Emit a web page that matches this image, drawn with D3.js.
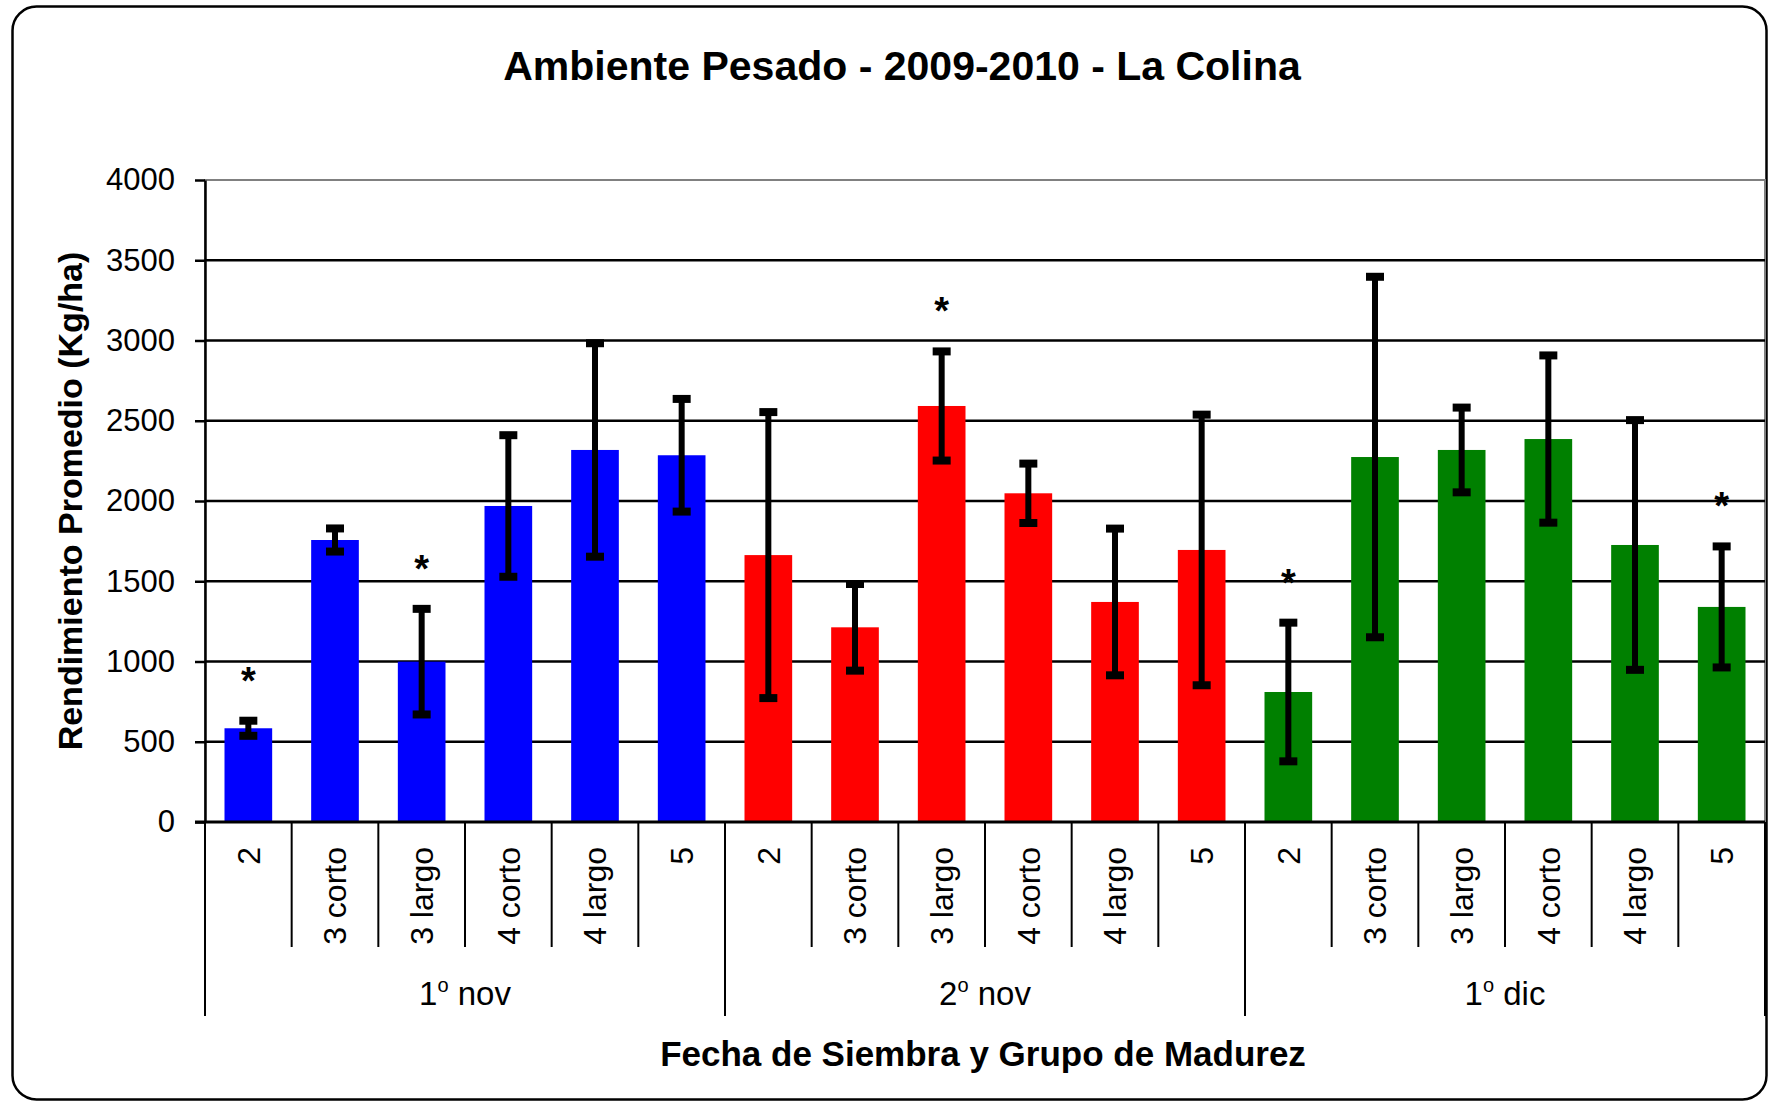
<!DOCTYPE html>
<html>
<head>
<meta charset="utf-8">
<script src="https://cdn.jsdelivr.net/npm/d3@7"></script>
<style>
  html, body { margin: 0; padding: 0; background: #fff; }
  svg { display: block; font-family: "Liberation Sans", Arial, sans-serif; }
</style>
</head>
<body>
<main></main>
<script>
// rendimiento promedio (kg/ha) y desvío, por fecha de siembra
const maturityGroups = ["2", "3 corto", "3 largo", "4 corto", "4 largo", "5"];
const sowingDates = ["1º nov", "2º nov", "1º dic"];
const nov1Mean = [584, 1757, 999, 1969, 2318, 2285];
const nov1Err = [47, 72, 329, 441, 665, 351];
const nov2Mean = [1663, 1213, 2592, 2048, 1371, 1695];
const nov2Err = [891, 270, 340, 185, 457, 843];
const dic1Mean = [810, 2274, 2318, 2386, 1726, 1340];
const dic1Err = [432, 1123, 264, 521, 778, 377];
// bars marked with "*"
const nov1Star = [true, false, true, false, false, false];
const nov2Star = [false, false, true, false, false, false];
const dic1Star = [true, false, false, false, false, true];
const yTicks = [0, 500, 1000, 1500, 2000, 2500, 3000, 3500, 4000];

const colors = ["#0000ff", "#ff0000", "#008000"];
const means = [nov1Mean, nov2Mean, dic1Mean];
const errs = [nov1Err, nov2Err, dic1Err];
const stars = [nov1Star, nov2Star, dic1Star];

const rows = [];
sowingDates.forEach((g, gi) => {
  maturityGroups.forEach((m, mi) => {
    rows.push({ key: gi + "-" + mi, group: g, gi, label: m, v: means[gi][mi], e: errs[gi][mi], star: stars[gi][mi] });
  });
});

const W = 1770, H = 1104;
const plotL = 205, plotR = 1765, plotT = 180, plotB = 822;

const svg = d3.select("main").append("svg")
  .attr("width", W).attr("height", H).attr("viewBox", `0 0 ${W} ${H}`);

// outer frame
svg.append("rect")
  .attr("x", 12.5).attr("y", 6.5).attr("width", 1754).attr("height", 1093)
  .attr("rx", 24).attr("fill", "#fff").attr("stroke", "#000").attr("stroke-width", 2.5);

const x = d3.scaleBand().domain(rows.map(d => d.key)).range([plotL, plotR])
  .paddingInner(0.45).paddingOuter(0.225);
const y = d3.scaleLinear().domain([0, 4000]).range([plotB, plotT]);
const step = x.step();
const slotLeft = k => x(k) - x.paddingInner() * step / 2;

// plot area frame + grid
svg.append("rect")
  .attr("x", plotL).attr("y", plotT).attr("width", plotR - plotL).attr("height", plotB - plotT)
  .attr("fill", "none").attr("stroke", "#808080").attr("stroke-width", 2);

svg.append("g")
  .selectAll("line")
  .data(yTicks.filter(t => t > 0 && t < 4000))
  .join("line")
  .attr("x1", plotL).attr("x2", plotR)
  .attr("y1", d => y(d)).attr("y2", d => y(d))
  .attr("stroke", "#000").attr("stroke-width", 2.5);

// bars
svg.append("g")
  .selectAll("rect")
  .data(rows)
  .join("rect")
  .attr("x", d => x(d.key))
  .attr("width", x.bandwidth())
  .attr("y", d => y(d.v))
  .attr("height", d => y(0) - y(d.v))
  .attr("fill", d => colors[d.gi]);

// error bars
const eb = svg.append("g").attr("stroke", "#000");
const cx = d => x(d.key) + x.bandwidth() / 2;
eb.selectAll("line.stem")
  .data(rows)
  .join("line")
  .attr("class", "stem")
  .attr("x1", cx).attr("x2", cx)
  .attr("y1", d => y(d.v + d.e)).attr("y2", d => y(d.v - d.e))
  .attr("stroke-width", 6);
eb.selectAll("line.cap")
  .data(rows.flatMap(d => [{ d, v: d.v + d.e }, { d, v: d.v - d.e }]))
  .join("line")
  .attr("class", "cap")
  .attr("x1", c => cx(c.d) - 9).attr("x2", c => cx(c.d) + 9)
  .attr("y1", c => y(c.v)).attr("y2", c => y(c.v))
  .attr("stroke-width", 8);

// significance marks
svg.append("g")
  .selectAll("text")
  .data(rows.filter(d => d.star))
  .join("text")
  .attr("x", cx)
  .attr("y", d => y(d.v + d.e) - 27)
  .attr("text-anchor", "middle")
  .style("font-size", "38px")
  .style("font-weight", "bold")
  .text("*");

// y axis
const yAxis = svg.append("g")
  .attr("transform", `translate(${plotL},0)`)
  .call(d3.axisLeft(y).tickValues(yTicks).tickFormat(d3.format("d")).tickSize(10).tickPadding(20).tickSizeOuter(0));
yAxis.select(".domain").attr("stroke", "#000").attr("stroke-width", 2.5);
yAxis.selectAll(".tick line").attr("stroke", "#000").attr("stroke-width", 2.5);
yAxis.selectAll(".tick text").style("font-size", "31px").attr("fill", "#000");
yAxis.attr("font-family", null).attr("font-size", null);

// x axis line
svg.append("line")
  .attr("x1", plotL - 10).attr("x2", plotR)
  .attr("y1", plotB).attr("y2", plotB)
  .attr("stroke", "#000").attr("stroke-width", 3);

// category separators
const seps = rows.map((d, i) => ({ xPos: slotLeft(d.key), major: i % maturityGroups.length === 0 }));
seps.push({ xPos: plotR, major: true });
svg.append("g")
  .selectAll("line")
  .data(seps)
  .join("line")
  .attr("x1", d => d.xPos).attr("x2", d => d.xPos)
  .attr("y1", plotB).attr("y2", d => d.major ? 1016 : 947)
  .attr("stroke", "#000").attr("stroke-width", 2);

// category labels
svg.append("g")
  .selectAll("text")
  .data(rows)
  .join("text")
  .attr("transform", d => `translate(${cx(d)},847) rotate(-90)`)
  .attr("dy", "0.35em")
  .attr("text-anchor", "end")
  .style("font-size", "32px")
  .text(d => d.label);

// sowing date labels
const gLab = svg.append("g")
  .selectAll("text")
  .data(sowingDates)
  .join("text")
  .attr("x", (g, gi) => {
    const first = rows[gi * maturityGroups.length];
    return slotLeft(first.key) + step * maturityGroups.length / 2;
  })
  .attr("y", 1005)
  .attr("text-anchor", "middle")
  .style("font-size", "33px");
gLab.append("tspan").text(g => g.split("º")[0]);
gLab.append("tspan").attr("dy", -13).style("font-size", "20px").text("o");
gLab.append("tspan").attr("dy", 13).text(g => g.split("º")[1]);

// titles
svg.append("text")
  .attr("x", 902).attr("y", 80)
  .attr("text-anchor", "middle")
  .style("font-size", "41px").style("font-weight", "bold")
  .text("Ambiente Pesado - 2009-2010 - La Colina");

svg.append("text")
  .attr("x", 983).attr("y", 1066)
  .attr("text-anchor", "middle")
  .style("font-size", "35px").style("font-weight", "bold")
  .text("Fecha de Siembra y Grupo de Madurez");

svg.append("text")
  .attr("transform", `translate(70,${(plotT + plotB) / 2}) rotate(-90)`)
  .attr("dy", "0.35em")
  .attr("text-anchor", "middle")
  .style("font-size", "34px").style("font-weight", "bold")
  .text("Rendimiento Promedio (Kg/ha)");
</script>
</body>
</html>
